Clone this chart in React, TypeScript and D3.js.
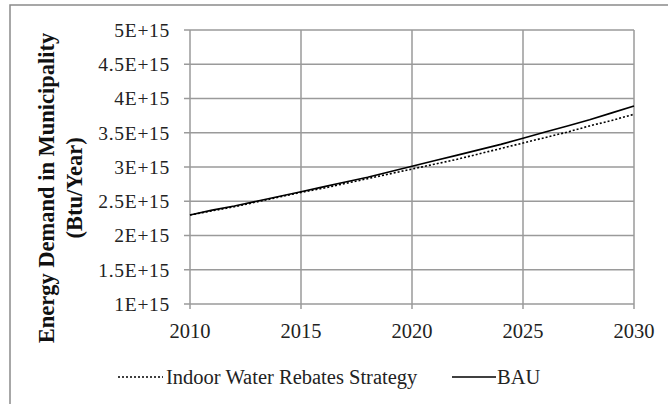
import React from "react";
import * as d3 from "d3";

const years = [2010, 2011, 2012, 2013, 2014, 2015, 2016, 2017, 2018, 2019, 2020, 2021, 2022, 2023, 2024, 2025, 2026, 2027, 2028, 2029, 2030];
const bau = [2.30, 2.37, 2.43, 2.50, 2.57, 2.64, 2.71, 2.78, 2.85, 2.93, 3.01, 3.09, 3.17, 3.25, 3.33, 3.42, 3.51, 3.60, 3.69, 3.79, 3.89];
const indoor = [2.30, 2.36, 2.42, 2.49, 2.56, 2.63, 2.69, 2.76, 2.83, 2.90, 2.97, 3.04, 3.11, 3.19, 3.27, 3.35, 3.43, 3.51, 3.60, 3.68, 3.77];
const yTicks = [1, 1.5, 2, 2.5, 3, 3.5, 4, 4.5, 5];
const yTickLabels = ["1E+15", "1.5E+15", "2E+15", "2.5E+15", "3E+15", "3.5E+15", "4E+15", "4.5E+15", "5E+15"];
const xTicks = [2010, 2015, 2020, 2025, 2030];
const seriesNames = ["Indoor Water Rebates Strategy", "BAU"];

export default function App() {
  const W = 668, H = 404;
  const left = 190, right = 634, top = 30, bottom = 304;
  const x = d3.scaleLinear().domain([2010, 2030]).range([left, right]);
  const y = d3.scaleLinear().domain([1, 5]).range([bottom, top]);
  const line = d3.line<number>().x((_, i) => x(years[i])).y((d) => y(d));
  const font = "Liberation Serif, Times New Roman, DejaVu Serif, serif";
  const grid = "#9a9a9a";
  const ts = { fontFamily: font };
  return (
    <svg width={W} height={H} style={{ position: "absolute", left: 0, top: 0, background: "#fff", fontFamily: font }}>
      <rect x={10} y={5} width={700} height={500} fill="#fff" stroke="#8a8a8a" strokeWidth={1.5} />
      {yTicks.map((t) => (
        <line key={"gy" + t} x1={left - 6} x2={right} y1={y(t)} y2={y(t)} stroke={grid} strokeWidth={1.5} />
      ))}
      {xTicks.map((t) => (
        <line key={"gx" + t} x1={x(t)} x2={x(t)} y1={top} y2={bottom + 5} stroke={grid} strokeWidth={1.5} />
      ))}
      {yTicks.map((t, i) => (
        <text key={"ly" + t} style={ts} x={left - 20} y={y(t)} dy="0.35em" textAnchor="end" fontSize={19.5} letterSpacing={0.7} fill="#222">{yTickLabels[i]}</text>
      ))}
      {xTicks.map((t) => (
        <text key={"lx" + t} style={ts} x={x(t)} y={338} textAnchor="middle" fontSize={20.5} fill="#222">{t}</text>
      ))}
      <path d={line(indoor) || ""} fill="none" stroke="#000" strokeWidth={1.6} strokeDasharray="2,2" />
      <path d={line(bau) || ""} fill="none" stroke="#000" strokeWidth={1.6} />
      <g transform="translate(54,188) rotate(-90)">
        <text style={ts} x={0} y={0} textAnchor="middle" fontSize={22.5} fontWeight="bold" fill="#111">Energy Demand in Municipality</text>
        <text style={ts} x={0} y={28} textAnchor="middle" fontSize={22.5} fontWeight="bold" fill="#111">(Btu/Year)</text>
      </g>
      <line x1={118} x2={163} y1={377} y2={377} stroke="#000" strokeWidth={1.4} strokeDasharray="2,2" />
      <text style={ts} x={166} y={384} fontSize={20.5} fill="#222">{seriesNames[0]}</text>
      <line x1={452} x2={496} y1={377} y2={377} stroke="#000" strokeWidth={1.4} />
      <text style={ts} x={497} y={384} fontSize={20.5} fill="#222">{seriesNames[1]}</text>
    </svg>
  );
}
